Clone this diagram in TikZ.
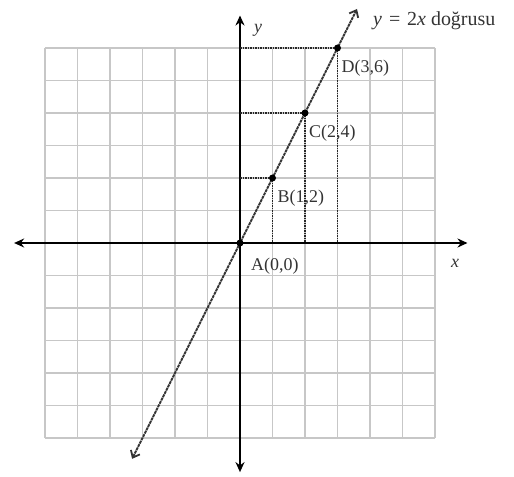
\documentclass[tikz,border=0pt]{standalone}
\usepackage{fontspec}
\setmainfont{Liberation Serif}
\usetikzlibrary{arrows.meta}
\begin{document}
\begin{tikzpicture}[x=32.5bp,y=32.5bp,
  gridline/.style={draw=black!22, line width=1.2bp},
  axisline/.style={line width=2.2bp, {Stealth[length=10bp,width=9bp]}-{Stealth[length=10bp,width=9bp]}},
  graphline/.style={draw=black!80, line width=1.8bp, dash pattern=on 3bp off 0.7bp, {Straight Barb[length=6bp,width=10bp]}-{Straight Barb[length=6bp,width=10bp]}},
  guide/.style={draw=black!85, line width=1.3bp, dash pattern=on 1.5bp off 1bp},
  dot/.style={fill=black, circle, inner sep=0pt, minimum size=7bp},
  lbl/.style={font=\fontsize{18}{20}\selectfont, inner sep=0pt, text=black!80}]
\useasboundingbox (-240bp,-234bp) rectangle (274bp,243bp);
% grid
\draw[gridline, step=1] (-6,-6) grid (6,6);
% axes
\coordinate (xl) at (-6.95,0);
\coordinate (xr) at (7.0,0);
\coordinate (yb) at (0,-7.05);
\coordinate (yt) at (0,7.0);
\draw[axisline] (xl) -- (xr);
\draw[axisline] (yb) -- (yt);
% points
\coordinate (A) at (0,0);
\coordinate (B) at (1,2);
\coordinate (C) at (2,4);
\coordinate (D) at (3,6);
\coordinate (By) at (0,2); \coordinate (Bx) at (1,0);
\coordinate (Cy) at (0,4); \coordinate (Cx) at (2,0);
\coordinate (Dy) at (0,6); \coordinate (Dx) at (3,0);
\draw[guide] (By) -- (B) -- (Bx);
\draw[guide] (Cy) -- (C) -- (Cx);
\draw[guide] (Dy) -- (D) -- (Dx);
% line y=2x
\coordinate (L1) at (-3.32,-6.64);
\coordinate (L2) at (3.6,7.2);
\draw[graphline] (L1) -- (L2);
\node[dot] (pA) at (A) {};
\node[dot] (pB) at (B) {};
\node[dot] (pC) at (C) {};
\node[dot] (pD) at (D) {};
% labels
\node[lbl, anchor=base west] (tA) at ([shift={(11bp,-27bp)}]A) {A(0,0)};
\node[lbl, anchor=base west] (tB) at ([shift={(5bp,-25bp)}]B) {B(1,2)};
\node[lbl, anchor=base west] (tC) at ([shift={(4bp,-25bp)}]C) {C(2,4)};
\node[lbl, anchor=base west] (tD) at ([shift={(4bp,-25bp)}]D) {D(3,6)};
\node[lbl] (tx) at (215bp,-20bp) {\textit{x}};
\node[lbl] (ty) at (18bp,213bp) {\textit{y}};
\node[lbl, font=\fontsize{20}{22}\selectfont, anchor=base west] (tline) at (133bp,217bp) {\textit{y}\hspace{2bp} = \hspace{2bp}2\textit{x} doğrusu};
\end{tikzpicture}
\end{document}
